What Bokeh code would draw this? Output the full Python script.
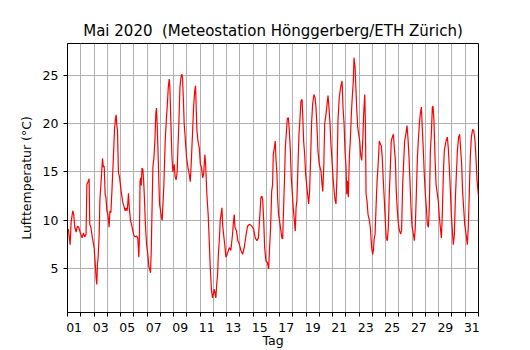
from bokeh.plotting import figure
from bokeh.models import Range1d, FixedTicker
from bokeh.embed import file_html
from bokeh.resources import INLINE

# time in days since 1 May 2020 00:00, air temperature in °C
tage = [
    0.00, 0.06, 0.12, 0.20, 0.27, 0.40, 0.47, 0.55, 0.65, 0.75, 0.85, 0.95,
    1.10, 1.20, 1.30, 1.40, 1.46, 1.55, 1.63, 1.68, 1.76, 1.88,
    2.01, 2.08, 2.16, 2.21, 2.26, 2.31, 2.39, 2.44, 2.52, 2.64, 2.70, 2.77, 2.84, 2.90, 2.97,
    3.05, 3.14, 3.20, 3.27, 3.35, 3.47, 3.55, 3.62, 3.67, 3.72, 3.77, 3.84, 3.93,
    4.05, 4.15, 4.25, 4.35, 4.42, 4.50, 4.55, 4.60, 4.65, 4.75, 4.85, 4.93,
    5.00, 5.10, 5.20, 5.30, 5.38, 5.43, 5.47, 5.52, 5.56, 5.62, 5.68, 5.74, 5.80, 5.88, 5.96,
    6.06, 6.14, 6.21, 6.26, 6.32, 6.36, 6.44, 6.52, 6.60, 6.66, 6.71, 6.76, 6.82, 6.88, 6.94,
    7.02, 7.10, 7.14, 7.19, 7.27, 7.37, 7.46, 7.52, 7.60, 7.67, 7.72, 7.80, 7.88, 7.95,
    8.05, 8.12, 8.20, 8.27, 8.33, 8.40, 8.48, 8.56, 8.63, 8.68, 8.74, 8.80, 8.88, 8.98,
    9.08, 9.18, 9.26, 9.33, 9.43, 9.51, 9.60, 9.66, 9.70, 9.76, 9.84, 9.94,
    10.02, 10.11, 10.19, 10.27, 10.36, 10.42, 10.51, 10.61, 10.69, 10.77, 10.86, 10.94,
    11.00, 11.07, 11.13, 11.19, 11.26, 11.32, 11.38, 11.45, 11.52, 11.60, 11.65, 11.70, 11.77, 11.86, 11.95,
    12.07, 12.20, 12.32, 12.45, 12.52, 12.58, 12.63, 12.75, 12.85, 12.95,
    13.08, 13.21, 13.33, 13.46, 13.58, 13.71, 13.85, 13.91,
    14.04, 14.16, 14.29, 14.40, 14.51, 14.59, 14.66, 14.72, 14.80, 14.87, 14.97,
    15.07, 15.17, 15.22, 15.27, 15.32, 15.40, 15.47, 15.52, 15.60, 15.67, 15.72, 15.80, 15.85, 15.92,
    16.03, 16.10, 16.17, 16.23, 16.30, 16.38, 16.43, 16.50, 16.58, 16.66, 16.73, 16.81, 16.88, 16.96,
    17.03, 17.11, 17.18, 17.24, 17.30, 17.38, 17.46, 17.54, 17.61, 17.69, 17.74, 17.81, 17.89, 17.96,
    18.04, 18.11, 18.19, 18.26, 18.34, 18.41, 18.49, 18.59, 18.67, 18.74, 18.82, 18.89, 18.99,
    19.12, 19.20, 19.25, 19.33, 19.40, 19.50, 19.58, 19.65, 19.72, 19.80, 19.87, 19.95,
    20.03, 20.13, 20.20, 20.25, 20.33, 20.40, 20.50, 20.60, 20.71, 20.78, 20.86, 20.93,
    21.01, 21.06, 21.11, 21.18, 21.26, 21.33, 21.41, 21.49, 21.56, 21.61, 21.69, 21.76, 21.81, 21.89, 21.96,
    22.04, 22.11, 22.19, 22.27, 22.34, 22.42, 22.47, 22.52, 22.59, 22.67, 22.77, 22.84, 22.94,
    23.02, 23.08, 23.12, 23.20, 23.27, 23.35, 23.42, 23.52, 23.60, 23.67, 23.74, 23.82, 23.90, 23.97,
    24.04, 24.12, 24.20, 24.27, 24.35, 24.42, 24.50, 24.58, 24.65, 24.73, 24.80, 24.88, 24.96,
    25.05, 25.13, 25.20, 25.28, 25.35, 25.43, 25.52, 25.61, 25.68, 25.76, 25.83, 25.91, 25.99,
    26.09, 26.16, 26.23, 26.31, 26.39, 26.46, 26.54, 26.61, 26.69, 26.76, 26.84, 26.91, 26.99,
    27.07, 27.14, 27.22, 27.29, 27.37, 27.44, 27.52, 27.57, 27.64, 27.72, 27.80, 27.87, 27.97,
    28.05, 28.12, 28.20, 28.27, 28.35, 28.42, 28.55, 28.65, 28.72, 28.80, 28.88, 28.95,
    29.03, 29.10, 29.18, 29.25, 29.33, 29.41, 29.50, 29.58, 29.66, 29.73, 29.80, 29.88, 29.96,
    30.06, 30.16, 30.23, 30.31, 30.38, 30.46, 30.56, 30.64, 30.74, 30.82, 30.89, 31.00,
]
temperatur = [
    8.8, 9.1, 8.4, 7.5, 9.8, 11.0, 10.6, 9.3, 8.8, 9.4, 9.3, 8.8,
    8.2, 8.7, 8.3, 8.6, 13.7, 14.0, 14.3, 9.6, 9.3, 8.2,
    7.2, 5.8, 4.0, 3.4, 5.5, 6.2, 8.6, 12.0, 13.7, 16.4, 15.5, 15.6, 12.7, 12.4, 11.0,
    10.6, 9.3, 11.0, 10.8, 13.0, 16.8, 19.5, 20.5, 20.9, 19.8, 19.3, 15.0, 14.4,
    13.0, 12.0, 11.5, 11.0, 11.3, 11.0, 11.8, 12.8, 11.5, 10.0, 9.5, 8.9,
    8.5, 8.3, 8.4, 8.2, 6.2, 8.5, 14.0, 14.4, 13.6, 15.4, 15.3, 14.2, 12.4, 9.5, 7.6,
    6.5, 5.2, 4.9, 4.6, 7.0, 10.0, 15.5, 16.5, 18.5, 21.0, 21.6, 20.0, 17.5, 14.5, 11.7,
    11.0, 10.2, 10.0, 11.4, 13.7, 18.2, 20.5, 21.7, 23.7, 24.6, 23.8, 20.0, 16.5, 15.0,
    15.8, 14.5, 14.2, 15.0, 17.5, 20.0, 23.7, 24.8, 25.1, 24.6, 22.5, 20.0, 18.5, 16.5,
    15.5, 14.8, 14.0, 15.8, 19.0, 21.7, 23.4, 23.9, 22.0, 19.3, 18.2, 17.5,
    15.8, 15.5, 14.4, 14.8, 16.8, 15.8, 12.7, 10.6, 7.9, 5.1, 2.8, 2.0,
    2.4, 2.9, 2.5, 2.0, 3.5, 4.4, 6.5, 7.9, 10.0, 10.8, 11.3, 9.6, 8.6, 7.5, 6.2,
    6.6, 7.2, 6.9, 8.6, 9.9, 10.6, 9.3, 8.9, 7.9, 7.6,
    6.9, 6.5, 7.2, 8.4, 9.4, 9.6, 9.5, 9.4,
    9.1, 8.2, 7.9, 8.2, 10.6, 12.4, 12.5, 12.2, 10.0, 7.2, 5.8,
    5.7, 5.0, 6.5, 7.9, 9.3, 13.0, 13.7, 16.8, 17.5, 18.2, 16.5, 14.8, 12.4, 10.6,
    9.6, 8.9, 8.2, 8.1, 11.3, 14.8, 17.5, 18.9, 20.5, 20.6, 19.3, 17.2, 14.4, 12.7,
    11.3, 10.0, 8.9, 11.3, 12.0, 15.5, 18.9, 20.6, 22.3, 22.5, 21.0, 18.2, 16.8, 14.8,
    13.7, 12.7, 11.7, 13.0, 16.5, 20.0, 22.0, 23.0, 22.7, 21.7, 19.6, 17.2, 15.8,
    15.1, 13.7, 13.0, 15.5, 20.0, 21.0, 22.0, 22.9, 21.7, 20.0, 17.9, 16.2,
    14.4, 12.7, 12.0, 11.7, 14.8, 20.3, 22.7, 23.7, 24.4, 21.7, 20.0, 17.2,
    15.5, 12.7, 14.1, 12.4, 16.5, 18.2, 21.0, 23.0, 24.4, 26.8, 25.8, 23.4, 21.7, 19.6, 18.9,
    18.2, 16.8, 16.2, 18.2, 21.0, 23.0, 20.0, 12.7, 12.0, 10.6, 10.0, 9.3, 7.2,
    6.5, 7.0, 8.0, 8.6, 11.3, 14.1, 15.5, 18.2, 17.9, 17.7, 16.5, 14.1, 12.0, 10.0,
    8.2, 7.9, 9.3, 12.7, 15.5, 18.2, 18.6, 18.9, 17.5, 16.2, 13.0, 11.0, 9.6,
    8.9, 8.6, 9.0, 13.7, 15.8, 18.2, 18.9, 19.8, 18.5, 16.5, 14.1, 11.3, 9.3,
    8.6, 7.9, 9.2, 12.7, 16.5, 18.2, 20.0, 21.0, 21.7, 19.6, 17.2, 14.8, 12.7,
    11.3, 9.6, 9.3, 11.3, 17.2, 18.9, 21.7, 21.8, 20.3, 16.5, 13.7, 13.0, 12.0,
    10.3, 9.3, 8.2, 10.6, 14.8, 17.2, 18.2, 18.6, 17.5, 15.5, 13.0, 10.6,
    8.9, 7.5, 8.5, 12.0, 14.8, 17.2, 18.6, 18.9, 17.2, 15.8, 13.0, 11.3, 9.6,
    8.6, 7.5, 9.3, 13.0, 16.5, 18.6, 19.4, 19.3, 18.2, 16.2, 14.1, 12.5,
]

tick_tage = list(range(1, 32, 2))
tick_labels = ["%02d" % d for d in tick_tage]
y_ticks = [5, 10, 15, 20, 25]

x = [1 + t for t in tage]  # day-of-month coordinate (1.0 = 1 May 00:00)

FONT = "DejaVu Sans"

p = figure(width=530, height=350, output_backend="svg", toolbar_location=None,
           x_range=Range1d(1, 32), y_range=Range1d(0.5, 28.26),
           min_border_left=67, min_border_right=52, min_border_top=43,
           min_border_bottom=0, background_fill_color="white",
           border_fill_color="white")

p.title.text = "Mai 2020\u00a0 (Meteostation Hönggerberg/ETH Zürich)"
p.title.align = "center"
p.title.text_font = FONT
p.title.text_font_size = "15px"
p.title.text_font_style = "normal"
p.title.text_color = "black"
p.title.standoff = 8

p.outline_line_color = "black"
p.outline_line_width = 1
p.outline_line_alpha = 1

# x axis: labels at noon, tick marks + grid at midnight
xax = p.xaxis[0]
xax.ticker = FixedTicker(ticks=[d + 0.5 for d in tick_tage],
                         minor_ticks=list(range(1, 33)))
xax.major_label_overrides = {d + 0.5: lab for d, lab in zip(tick_tage, tick_labels)}
xax.major_tick_out = 0
xax.major_tick_in = 0
xax.minor_tick_out = 4
xax.minor_tick_in = 0
xax.minor_tick_line_color = "black"
xax.axis_label = "Tag"
xax.major_label_standoff = 6
xax.axis_label_standoff = -2

yax = p.yaxis[0]
yax.ticker = FixedTicker(ticks=y_ticks, minor_ticks=[])
yax.major_tick_out = 4
yax.major_tick_in = 0
yax.minor_tick_out = 0
yax.minor_tick_in = 0
yax.axis_label = "Lufttemperatur (°C)"
yax.major_label_standoff = 5
yax.axis_label_standoff = 6

for ax in (xax, yax):
    ax.axis_line_color = "black"
    ax.axis_line_width = 1
    ax.major_tick_line_color = "black"
    ax.major_label_text_font = FONT
    ax.major_label_text_font_size = "12.5px"
    ax.major_label_text_color = "black"
    ax.axis_label_text_font = FONT
    ax.axis_label_text_font_size = "12.5px"
    ax.axis_label_text_font_style = "normal"
    ax.axis_label_text_color = "black"

p.xgrid.ticker = FixedTicker(ticks=list(range(2, 32)))
p.ygrid.ticker = FixedTicker(ticks=y_ticks)
for g in (p.xgrid, p.ygrid):
    g.grid_line_color = "#b0b0b0"
    g.grid_line_width = 1
    g.grid_line_alpha = 1

p.line(x, temperatur, line_color="red", line_width=1.2)

open("out.html", "w").write(file_html(p, INLINE))
